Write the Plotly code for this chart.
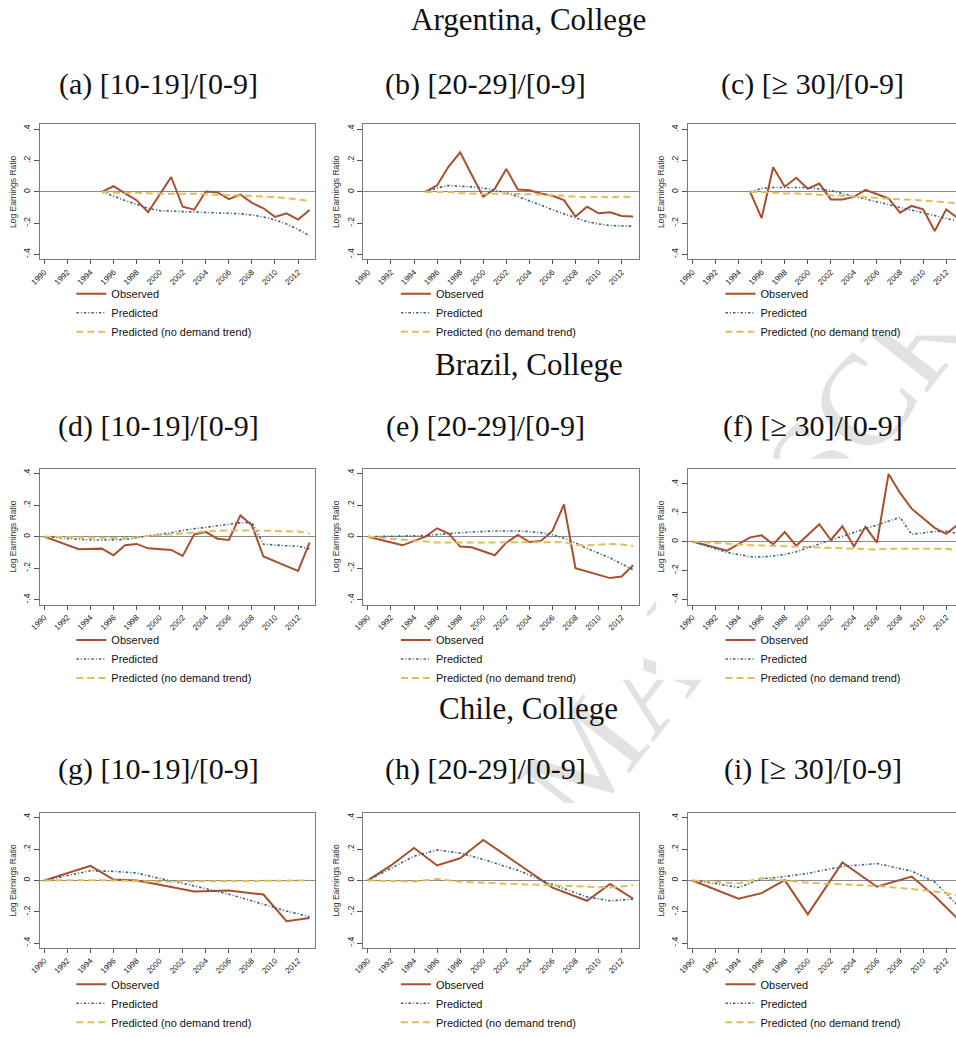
import plotly.graph_objects as go

FIG_W, FIG_H = 956, 1037

# ---------------------------------------------------------------- data
ARG_YEARS = list(range(1995, 2014))
BRA_YEARS = [1990, 1993, 1995, 1996, 1997, 1998, 1999, 2001, 2002, 2003,
             2004, 2005, 2006, 2007, 2008, 2009, 2011, 2012, 2013]
CHL_YEARS = [1990, 1992, 1994, 1996, 1998, 2000, 2003, 2006, 2009, 2011, 2013]

# Argentina, College
arg_a_obs = [0.0, 0.036, -0.01, -0.053, -0.13, -0.02, 0.095, -0.095, -0.114, 0.002,
             -0.002, -0.046, -0.017, -0.07, -0.105, -0.16, -0.137, -0.177, -0.116]
arg_a_pred = [0.0, -0.03, -0.055, -0.08, -0.105, -0.12, -0.123, -0.125, -0.127, -0.13,
              -0.135, -0.137, -0.14, -0.148, -0.16, -0.18, -0.205, -0.24, -0.28]
arg_a_nod = [0.0, -0.005, -0.005, -0.005, -0.008, -0.012, -0.012, -0.01, -0.012, -0.015,
             -0.018, -0.02, -0.022, -0.025, -0.028, -0.033, -0.04, -0.05, -0.058]

arg_b_obs = [0.0, 0.042, 0.162, 0.253, 0.11, -0.032, 0.02, 0.147, 0.015, 0.01,
             -0.01, -0.025, -0.053, -0.158, -0.095, -0.137, -0.13, -0.154, -0.158]
arg_b_pred = [0.0, 0.025, 0.04, 0.038, 0.032, 0.025, 0.01, -0.005, -0.03, -0.055,
              -0.085, -0.115, -0.14, -0.168, -0.19, -0.205, -0.215, -0.218, -0.22]
arg_b_nod = [0.0, 0.002, 0.0, -0.008, -0.012, -0.014, -0.012, -0.012, -0.014, -0.015,
             -0.017, -0.02, -0.025, -0.032, -0.035, -0.03, -0.035, -0.03, -0.033]

arg_c_obs = [0.0, -0.168, 0.158, 0.032, 0.09, 0.02, 0.053, -0.048, -0.048, -0.032,
             0.013, -0.017, -0.042, -0.133, -0.09, -0.112, -0.25, -0.112, -0.168]
arg_c_pred = [0.0, 0.022, 0.028, 0.028, 0.032, 0.028, 0.018, 0.008, -0.01, -0.028,
              -0.045, -0.065, -0.08, -0.1, -0.115, -0.135, -0.155, -0.17, -0.185]
arg_c_nod = [0.0, 0.0, -0.005, -0.01, -0.01, -0.015, -0.02, -0.022, -0.025, -0.03,
             -0.035, -0.04, -0.045, -0.048, -0.05, -0.055, -0.06, -0.065, -0.072]

# Brazil, College
bra_d_obs = [0.0, -0.08, -0.076, -0.118, -0.055, -0.046, -0.074, -0.084, -0.122, 0.015,
             0.03, -0.013, -0.021, 0.135, 0.072, -0.126, -0.187, -0.217, -0.038]
bra_d_pred = [0.0, -0.017, -0.022, -0.022, -0.018, -0.008, 0.005, 0.025, 0.04, 0.05,
              0.06, 0.07, 0.08, 0.088, 0.09, -0.048, -0.058, -0.06, -0.078]
bra_d_nod = [0.0, -0.005, -0.008, -0.01, -0.01, -0.005, 0.005, 0.015, 0.022, 0.028,
             0.033, 0.038, 0.04, 0.042, 0.04, 0.038, 0.032, 0.032, 0.02]

bra_e_obs = [0.0, -0.055, 0.0, 0.053, 0.019, -0.063, -0.067, -0.118, -0.038, 0.011,
             -0.034, -0.027, 0.036, 0.204, -0.2, -0.22, -0.263, -0.253, -0.181]
bra_e_pred = [0.0, 0.004, 0.007, 0.013, 0.02, 0.025, 0.03, 0.036, 0.038, 0.036,
              0.032, 0.025, 0.012, -0.01, -0.04, -0.075, -0.135, -0.17, -0.21]
bra_e_nod = [0.0, -0.02, -0.035, -0.037, -0.037, -0.038, -0.038, -0.037, -0.036, -0.035,
             -0.035, -0.035, -0.035, -0.035, -0.052, -0.055, -0.047, -0.05, -0.06]

bra_f_obs = [0.0, -0.063, 0.029, 0.043, -0.02, 0.066, -0.029, 0.12, 0.011, 0.106,
             -0.034, 0.102, -0.007, 0.468, 0.337, 0.228, 0.095, 0.054, 0.118]
bra_f_pred = [0.0, -0.075, -0.105, -0.107, -0.1, -0.09, -0.07, -0.015, 0.012, 0.04,
              0.065, 0.09, 0.115, 0.14, 0.168, 0.05, 0.07, 0.072, 0.055]
bra_f_nod = [0.0, -0.018, -0.025, -0.027, -0.03, -0.033, -0.037, -0.042, -0.044, -0.046,
             -0.048, -0.05, -0.055, -0.05, -0.05, -0.048, -0.045, -0.05, -0.06]

# Chile, College
chl_g_obs = [0.0, 0.046, 0.093, 0.006, 0.0, -0.027, -0.07, -0.065, -0.09, -0.26, -0.24]
chl_g_pred = [0.0, 0.032, 0.062, 0.058, 0.048, 0.013, -0.035, -0.088, -0.152, -0.195, -0.232]
chl_g_nod = [0.0, 0.002, 0.002, 0.0, -0.005, -0.008, -0.006, -0.003, -0.002, -0.001, 0.0]

chl_h_obs = [0.0, 0.096, 0.207, 0.096, 0.142, 0.259, 0.107, -0.046, -0.13, -0.023, -0.117]
chl_h_pred = [0.0, 0.075, 0.155, 0.195, 0.175, 0.135, 0.065, -0.025, -0.105, -0.13, -0.12]
chl_h_nod = [0.0, -0.005, -0.007, 0.01, -0.008, -0.015, -0.022, -0.03, -0.04, -0.045, -0.03]

chl_i_obs = [0.0, -0.058, -0.117, -0.081, 0.002, -0.217, 0.115, -0.04, 0.025, -0.1, -0.245]
chl_i_pred = [0.0, -0.02, -0.045, 0.01, 0.025, 0.045, 0.09, 0.108, 0.06, -0.01, -0.16]
chl_i_nod = [0.0, -0.01, -0.018, 0.015, 0.0, -0.015, -0.025, -0.035, -0.055, -0.07, -0.095]

SECTION_TITLES = ["Argentina, College", "Brazil, College", "Chile, College"]
PANEL_TITLES = ["(a) [10-19]/[0-9]", "(b) [20-29]/[0-9]", "(c) [\u2265 30]/[0-9]",
                "(d) [10-19]/[0-9]", "(e) [20-29]/[0-9]", "(f) [\u2265 30]/[0-9]",
                "(g) [10-19]/[0-9]", "(h) [20-29]/[0-9]", "(i) [\u2265 30]/[0-9]"]
SERIES_NAMES = ["Observed", "Predicted", "Predicted (no demand trend)"]
X_TICKS = list(range(1990, 2013, 2))
Y_TICKS = [-0.4, -0.2, 0, 0.2, 0.4]
Y_TICK_TEXT = ["-.4", "-.2", "0", ".2", ".4"]
Y_TITLE = "Log Earnings Ratio"
WATERMARK = "MANUSCRIPT"

PANELS = [
    (ARG_YEARS, arg_a_obs, arg_a_pred, arg_a_nod),
    (ARG_YEARS, arg_b_obs, arg_b_pred, arg_b_nod),
    (ARG_YEARS, arg_c_obs, arg_c_pred, arg_c_nod),
    (BRA_YEARS, bra_d_obs, bra_d_pred, bra_d_nod),
    (BRA_YEARS, bra_e_obs, bra_e_pred, bra_e_nod),
    (BRA_YEARS, bra_f_obs, bra_f_pred, bra_f_nod),
    (CHL_YEARS, chl_g_obs, chl_g_pred, chl_g_nod),
    (CHL_YEARS, chl_h_obs, chl_h_pred, chl_h_nod),
    (CHL_YEARS, chl_i_obs, chl_i_pred, chl_i_nod),
]

# ---------------------------------------------------------------- layout geometry (pixels)
COLS_PX = [(30, 308), (357, 636), (685, 956)]
ROWS_PX = [(126, 263), (475, 613), (824, 961)]
PX_PER_YEAR = (308 - 30) / (2013.45 - 1989.6)
X0 = 1989.6
Y_RANGE = [-0.432, 0.432]
Y_RANGE_WIDE = [-0.438, 0.506]   # panel (f) has a taller range
TITLE_CX = [150, 481, 811]
SECTION_CX = 524
SECTION_Y = [20, 369, 718]
PANEL_TITLE_Y = [85, 432, 780]
LEGEND_X = [62, 390, 718]
LEGEND_MID_Y = [317, 668, 1017]

STYLES = [
    dict(color="#A8502D", width=2.0, dash="solid"),
    dict(color="#3E6382", width=1.6, dash="2.5px,2px,1px,2px"),
    dict(color="#E0BE5A", width=2.0, dash="7px,4px"),
]

SERIF = "Liberation Serif, Times New Roman, serif"
SANS = "Liberation Sans, Arial, sans-serif"


def px_x(p):
    return p / FIG_W


def px_y(p):
    return 1 - p / FIG_H


fig = go.Figure()
shapes = []
layout = dict(
    width=FIG_W, height=FIG_H,
    margin=dict(l=0, r=0, t=0, b=0),
    paper_bgcolor="white", plot_bgcolor="white",
    font=dict(family=SANS, color="#222"),
    annotations=[],
)

# Background page layer: a full-size hidden subplot in pixel units that
# carries the faint watermark; each panel block is backed by a white card.
fig.add_trace(go.Scatter(x=[0, FIG_W], y=[0, FIG_H], mode="markers",
                         marker=dict(opacity=0), showlegend=False,
                         hoverinfo="skip", xaxis="x", yaxis="y"))
layout["xaxis"] = dict(domain=[0, 1], range=[0, FIG_W], visible=False, fixedrange=True)
layout["yaxis"] = dict(domain=[0, 1], range=[FIG_H, 0], visible=False, fixedrange=True)
shapes.append(dict(
    type="rect", xref="x", yref="y", layer="below",
    x0=742, x1=842, y0=425, y1=525, line=dict(width=0), fillcolor="rgba(0,0,0,0)",
    label=dict(text=WATERMARK, textangle=-52, textposition="middle center",
               font=dict(family=SERIF, size=130, color="#e2e2e2")),
))
for r in range(3):
    for c in range(3):
        left, right = COLS_PX[c]
        top, _ = ROWS_PX[r]
        shapes.append(dict(
            type="rect", xref="x", yref="y", layer="below",
            x0=left - 32, x1=right + 4, y0=top - 10, y1=top + 214,
            line=dict(width=0), fillcolor="white",
        ))

for k, (years, obs, pred, nod) in enumerate(PANELS):
    r, c = divmod(k, 3)
    n = k + 2
    xa, ya = f"x{n}", f"y{n}"
    leg = "legend" if k == 0 else f"legend{k + 1}"

    for name, vals, st in zip(SERIES_NAMES, (obs, pred, nod), STYLES):
        fig.add_trace(go.Scatter(
            x=years, y=vals, mode="lines", name=name,
            line=dict(color=st["color"], width=st["width"], dash=st["dash"]),
            xaxis=xa, yaxis=ya, legend=leg, showlegend=True,
        ))

    left, right = COLS_PX[c]
    top, bottom = ROWS_PX[r]
    x_hi = X0 + (right - left) / PX_PER_YEAR
    last_col = (c == 2)

    layout[f"xaxis{n}"] = dict(
        domain=[px_x(left), px_x(right)], anchor=ya,
        range=[X0, x_hi], tickvals=X_TICKS, ticktext=[str(t) for t in X_TICKS],
        tickangle=-45, tickfont=dict(size=8, family=SANS, color="#222"),
        ticks="outside", ticklen=4, tickcolor="#555", tickwidth=1,
        showgrid=False, zeroline=False,
        showline=True, linecolor="#7a7a7a", linewidth=1, mirror=True,
    )
    layout[f"yaxis{n}"] = dict(
        domain=[px_y(bottom), px_y(top)], anchor=xa,
        range=Y_RANGE_WIDE if k == 5 else Y_RANGE,
        tickvals=Y_TICKS, ticktext=Y_TICK_TEXT,
        tickangle=-90, tickfont=dict(size=8.5, family=SANS, color="#222"),
        ticks="outside", ticklen=5, tickcolor="#555", tickwidth=1,
        showgrid=False,
        zeroline=True, zerolinecolor="#8a8a8a", zerolinewidth=1.3,
        showline=True, linecolor="#7a7a7a", linewidth=1,
        mirror=not last_col,
        title=dict(text=Y_TITLE, font=dict(size=8.5, family=SANS, color="#333"),
                   standoff=4),
    )
    layout[leg] = dict(
        x=px_x(LEGEND_X[c]), y=px_y(LEGEND_MID_Y[r]),
        xanchor="left", yanchor="middle",
        bgcolor="rgba(255,255,255,0)", borderwidth=0,
        font=dict(size=11, family=SANS, color="#111"),
        tracegroupgap=0, traceorder="normal",
    )
    layout["annotations"].append(dict(
        text=PANEL_TITLES[k], xref="paper", yref="paper",
        x=px_x(TITLE_CX[c]), y=px_y(PANEL_TITLE_Y[r]),
        xanchor="center", yanchor="middle", showarrow=False,
        font=dict(family=SERIF, size=30, color="#111"),
    ))

for r in range(3):
    layout["annotations"].append(dict(
        text=SECTION_TITLES[r], xref="paper", yref="paper",
        x=px_x(SECTION_CX), y=px_y(SECTION_Y[r]),
        xanchor="center", yanchor="middle", showarrow=False,
        font=dict(family=SERIF, size=31, color="#111"),
    ))

layout["shapes"] = shapes
fig.update_layout(**layout)
fig.write_html("out.html")
